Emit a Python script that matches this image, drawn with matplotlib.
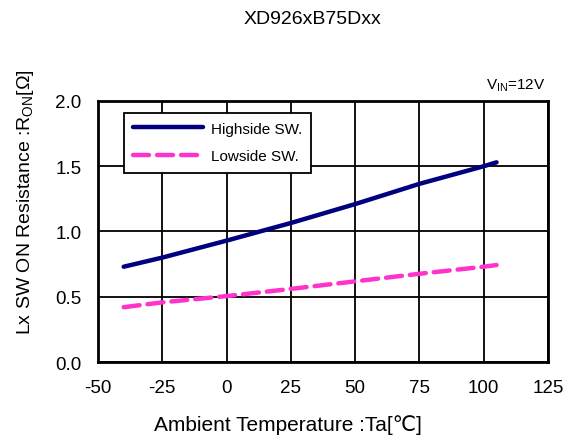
import numpy as np
import matplotlib.pyplot as plt

plt.rcParams['font.family'] = ['Liberation Sans', 'DejaVu Sans']
plt.rcParams['mathtext.fontset'] = 'custom'
plt.rcParams['mathtext.rm'] = 'Liberation Sans'
plt.rcParams['mathtext.it'] = 'Liberation Sans'

# данные
temp = [-40, -25, 0, 25, 50, 75, 100, 105]
high_sw = [0.73, 0.80, 0.93, 1.065, 1.21, 1.365, 1.50, 1.53]
low_sw = [0.42, 0.457, 0.505, 0.56, 0.618, 0.676, 0.73, 0.743]
xticks = [-50, -25, 0, 25, 50, 75, 100, 125]
yticks = [0.0, 0.5, 1.0, 1.5, 2.0]

fig = plt.figure(figsize=(5.75, 4.39), dpi=100)
ax = fig.add_axes([0.1704, 0.1731, 0.7826, 0.5946])

ax.plot(temp, high_sw, color='#000080', lw=3.2, solid_capstyle='round',
        label='Highside SW.')
ax.plot(temp, low_sw, color='#FF33CC', lw=3.2, dashes=(3.6, 1.8),
        dash_capstyle='round', label='Lowside SW.')

ax.set_xlim(-50, 125)
ax.set_ylim(0, 2.0)
ax.set_xticks(xticks)
ax.set_yticks(yticks)
ax.set_xticklabels([str(t) for t in xticks], fontsize=13.5)
ax.set_yticklabels(['%.1f' % t for t in yticks], fontsize=13.5)
ax.tick_params(length=0, pad=12)
ax.grid(True, color='black', lw=1.3)
for s in ax.spines.values():
    s.set_linewidth(2)

ax.set_xlabel('Ambient Temperature :Ta[℃]', fontsize=15)
ax.xaxis.set_label_coords(0.422, -0.2)
ax.set_ylabel(r'Lx SW ON Resistance :R$_{\mathrm{ON}}$[Ω]', fontsize=14)
ax.yaxis.set_label_coords(-0.137, 0.615)
fig.text(0.543, 0.955, 'XD926xB75Dxx', ha='center', va='center', fontsize=14)
ax.text(0.995, 1.03, r'V$_{\mathrm{IN}}$=12V', transform=ax.transAxes,
        ha='right', va='bottom', fontsize=11)

leg = ax.legend(loc='upper left', bbox_to_anchor=(0.04, 0.985), fontsize=11,
                frameon=True, fancybox=False, framealpha=1, edgecolor='black',
                handlelength=4.6, handletextpad=0.5, borderpad=0.6,
                labelspacing=0.9)
leg.get_frame().set_linewidth(1.3)

plt.savefig('out.png', dpi=100)
